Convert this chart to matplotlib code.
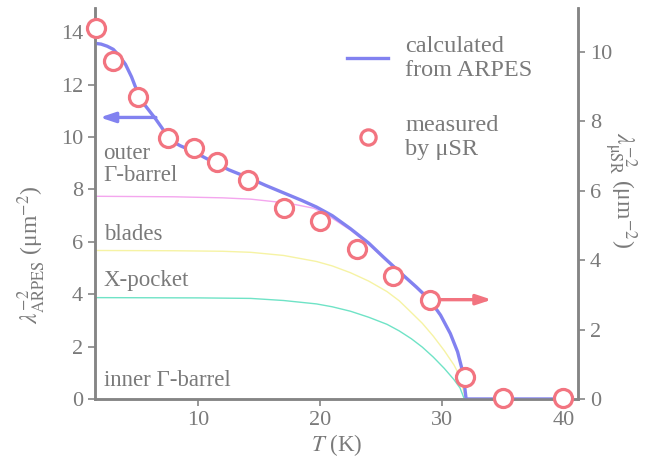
"""Superfluid density vs temperature: ARPES calculation and muSR data."""
import matplotlib

matplotlib.use("Agg")
import matplotlib.pyplot as plt

plt.rcParams["font.family"] = ["Liberation Serif", "DejaVu Serif"]
plt.rcParams["mathtext.fontset"] = "stix"

GRAY = "#7a7a7a"
BLUE = "#8282f0"
RED = "#f27480"

# total lambda^-2 calculated from ARPES (left axis)
T_calc = [1.5, 2.0, 2.5, 3.0, 3.5, 4.0, 4.5, 5.0, 5.5, 6.0, 6.5, 7.0, 7.5, 8.0, 8.5,
          9.6, 10.5, 11.5, 12.5, 14.1, 15.5, 17.0, 18.5, 19.7, 21.0, 22.5, 24.0,
          25.2, 26.6, 27.9, 29.0, 29.9, 30.7, 31.3, 31.75, 32.0, 40.0]
L_calc = [13.58, 13.55, 13.47, 13.35, 13.1, 12.78, 12.3, 11.7, 11.28, 10.98, 10.68,
          10.35, 10.0, 9.8, 9.67, 9.45, 9.22, 8.98, 8.75, 8.45, 8.16, 7.87, 7.58,
          7.33, 7.0, 6.5, 5.95, 5.42, 4.82, 4.28, 3.79, 3.2, 2.5, 1.8, 0.98, 0.0, 0.0]

# band contributions (left axis)
T_outer = [1.5, 8, 12, 14.3, 16.5, 18, 19.5, 20.5, 22.5, 24.0, 25.2, 26.6, 27.9,
           29.0, 29.9, 30.7, 31.3, 31.75, 32.0]
L_outer = [7.74, 7.72, 7.68, 7.63, 7.52, 7.42, 7.28, 7.05, 6.45, 5.9, 5.38, 4.78,
           4.24, 3.75, 3.17, 2.47, 1.77, 0.96, 0.0]
T_blades = [1.5, 8, 12, 14.3, 17, 19.7, 21, 22.5, 24, 25.5, 26.5, 27.5, 28.4, 29.3,
            30.2, 31.0, 31.5, 31.95]
L_blades = [5.67, 5.66, 5.64, 5.6, 5.48, 5.25, 5.08, 4.82, 4.5, 4.1, 3.75, 3.3, 2.89,
            2.4, 1.85, 1.3, 0.85, 0.0]
T_xpock = [1.5, 10, 14.3, 17, 19.7, 21, 22.5, 24, 25.5, 26.5, 27.5, 28.4, 29.3,
           30.2, 31.0, 31.5, 31.85]
L_xpock = [3.87, 3.86, 3.84, 3.76, 3.63, 3.52, 3.35, 3.12, 2.85, 2.6, 2.3, 1.98, 1.6,
           1.17, 0.74, 0.42, 0.0]

# muSR measurement (right axis)
T_musr = [1.56, 3.0, 5.0, 7.5, 9.6, 11.5, 14.1, 17.05, 20.0, 23.0, 26.0, 29.0, 31.9, 35.0, 40.0]
L_musr = [10.68, 9.73, 8.70, 7.51, 7.22, 6.82, 6.32, 5.50, 5.12, 4.33, 3.53, 2.86, 0.62, 0.04, 0.04]

x_ticks = [10, 20, 30, 40]
left_ticks = [0, 2, 4, 6, 8, 10, 12, 14]
right_ticks = [0, 2, 4, 6, 8, 10]

fig = plt.figure(figsize=(6.5, 4.69), dpi=100)
ax = fig.add_axes([0.1462, 0.1493, 0.7431, 0.8337])
ax2 = ax.twinx()

ax.plot(T_outer, L_outer, color="#f4a6ee", lw=1.0, zorder=2)
ax.plot(T_blades, L_blades, color="#f6f3a4", lw=1.0, zorder=2)
ax.plot(T_xpock, L_xpock, color="#6fe3c6", lw=1.0, zorder=2)
(calc_line,) = ax.plot(T_calc, L_calc, color=BLUE, lw=2.4, zorder=3,
                       solid_joinstyle="round")

(musr_pts,) = ax2.plot(T_musr, L_musr, "o", ms=13, mfc="white", mec=RED, mew=2.3,
                       clip_on=False, zorder=5)

ax.annotate("", xy=(1.9, 10.75), xytext=(6.5, 10.75),
            arrowprops=dict(arrowstyle="-|>,head_length=0.9,head_width=0.3",
                            color=BLUE, lw=2.4, shrinkA=0, shrinkB=0))
ax2.annotate("", xy=(34.1, 2.86), xytext=(29.0, 2.86),
             arrowprops=dict(arrowstyle="-|>,head_length=0.9,head_width=0.3",
                             color=RED, lw=2.4, shrinkA=8, shrinkB=0), zorder=4)

fs = 16.5
for txt, y in [("outer\nΓ-barrel", 8.95), ("blades", 6.27),
               ("X-pocket", 4.51), ("inner Γ-barrel", 0.69)]:
    ax.text(2.2, y, txt, color=GRAY, fontsize=fs, va="center", ha="left",
            linespacing=1.1)

ax.set_xlim(1.5, 41.2)
ax.set_ylim(0, 14.93)
ax2.set_ylim(0, 11.26)
ax.set_xticks(x_ticks)
ax.set_yticks(left_ticks)
ax2.set_yticks(right_ticks)

for a in (ax, ax2):
    for s in a.spines.values():
        s.set_color("#858585")
        s.set_linewidth(1.8)
    a.spines["top"].set_visible(False)
    a.tick_params(colors="#858585", labelcolor=GRAY, labelsize=16, width=1.2,
                  length=5, direction="out")

ax.set_xlabel(r"$T$ (K)", color=GRAY, fontsize=fs, labelpad=2)
fig.text(32 / 650, 1 - 255 / 469, r"$\lambda^{-2}_{\rm ARPES}$ (μm$^{-2}$)",
         color=GRAY, fontsize=17, rotation=90, ha="center", va="center")
fig.text(620 / 650, 1 - 190 / 469, r"$\lambda^{-2}_{\rm \mu SR}$ (μm$^{-2}$)",
         color=GRAY, fontsize=17, rotation=270, ha="center", va="center")

leg = ax.legend([calc_line, musr_pts], ["calculated\nfrom ARPES", "measured\nby μSR"],
                loc="upper left", bbox_to_anchor=(0.515, 0.95),
                bbox_transform=fig.transFigure, frameon=False, fontsize=17.5,
                borderpad=0, handlelength=1.7, handletextpad=0.7, labelspacing=1.4,
                labelcolor=GRAY)
for h in leg.legend_handles[1:]:
    h.set_markersize(11)

fig.savefig("out.png", dpi=100)
